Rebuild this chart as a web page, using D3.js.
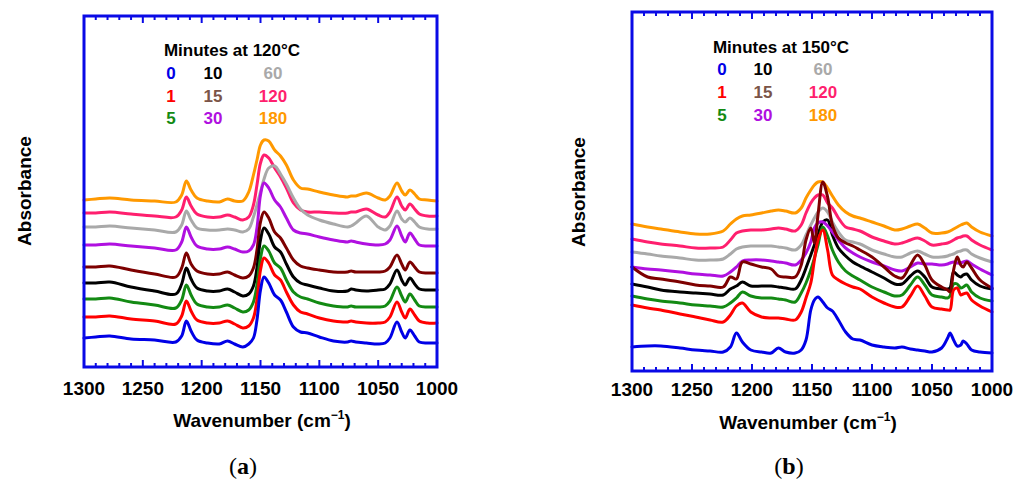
<!DOCTYPE html>
<html><head><meta charset="utf-8">
<script src="https://cdn.jsdelivr.net/npm/d3@7/dist/d3.min.js"></script>
<style>
body{margin:0;background:#fff}
svg{display:block}
text{font-family:"Liberation Sans",Arial,Helvetica,sans-serif;font-weight:bold}
</style></head>
<body><svg id="chart" width="1014" height="486"></svg>
<script>
// ---------- DATA ----------
const minutes = ["0","1","5","10","15","30","60","120","180"];
const lineColors = ["#0000e6","#ff0000","#138a13","#000000","#7d0000","#b010e0","#a9a9a9","#ff1f6e","#ff9900"];
const labelColors = ["#0000e6","#ff0000","#138a13","#000000","#7b5448","#b010e0","#a9a9a9","#ff1f6e","#ff9900"];
const xTicks = [1300,1250,1200,1150,1100,1050,1000];

// Panel (a): 120 °C, absorbance (arb. units, offset stacked)
const wnA = [1300,1290,1278,1260,1240,1222,1217,1213,1209,1204,1195,1185,1178,1172,1165,1160,1156,1153,1150,1147,1143,1138,1133,1128,1122,1116,1110,1100,1088,1076,1073,1069,1060,1050,1044,1040,1034,1030,1027,1023,1019,1015,1008,1000];
const a0   = [29,30,31,28,27,25,31,46,36,27,24,23,26,23,20,23,29,47,77,90,84,72,67,55,40,35,34,30,26,25,26,25,24,23,24,29,45,35,29,37,31,25,24,24];
const a1   = [50,50,51,48,46,43,51,66,56,47,44,44,46,43,39,41,49,67,97,109,104,92,87,75,62,55,53,49,46,45,46,45,44,44,45,50,65,55,49,58,52,46,44,44];
const a5   = [68,68,69,65,62,59,67,82,72,63,60,60,62,59,55,57,65,82,109,121,116,104,99,87,75,70,68,64,61,60,61,60,60,60,61,66,80,71,65,73,67,61,60,60];
const a10  = [84,84,85,80,76,73,83,99,88,79,76,76,78,75,71,73,81,99,127,139,133,120,115,103,90,84,82,79,76,76,78,77,76,77,78,83,97,87,82,89,83,78,77,77];
const a15  = [100,100,101,97,93,90,99,114,103,96,93,93,95,92,89,91,99,117,145,155,149,135,129,119,107,101,99,97,95,95,96,95,95,95,96,100,112,103,97,105,100,95,94,94];
const a30  = [122,122,123,121,119,117,125,140,130,121,118,118,120,118,115,116,122,139,172,184,179,167,160,149,137,134,133,130,127,125,126,125,123,122,123,127,141,131,125,134,128,122,121,121];
const a60  = [140,140,141,139,137,135,142,156,147,139,137,137,138,137,135,138,150,162,175,188,199,201,193,183,169,158,152,147,143,140,141,144,151,140,137,141,156,148,145,149,145,140,138,138];
const a120 = [154,154,155,153,151,150,157,170,161,153,150,150,152,150,147,150,162,182,204,212,209,199,190,179,164,157,155,155,154,154,155,155,158,152,150,155,170,161,157,163,158,153,151,151];
const a180 = [167,168,169,167,166,165,172,186,177,169,166,165,168,166,166,175,192,207,222,227,226,217,211,202,187,179,178,175,172,170,171,171,174,169,167,171,184,176,172,177,173,168,167,166];

// Panel (b): 150 °C
const wnB = [1300,1287,1276,1260,1247,1235,1224,1218,1213,1208,1201,1192,1184,1178,1172,1164,1159,1155,1151,1148,1145,1141,1137,1133,1128,1122,1116,1110,1100,1090,1081,1075,1068,1062,1056,1050,1042,1037,1035,1032,1029,1026,1024,1021,1017,1010,1000];
const b0   = [24,25,25,23,21,20,19,24,38,29,21,19,18,23,19,18,21,31,61,71,74,69,63,60,51,39,32,31,26,24,23,24,22,21,20,19,23,33,38,31,25,26,30,27,21,19,18];
const b1   = [66,63,61,57,54,51,49,56,65,68,59,54,53,53,52,51,59,73,88,111,131,141,121,96,91,87,84,82,74,68,64,64,75,85,75,64,62,61,61,81,83,76,77,78,71,65,59];
const b5   = [75,72,70,68,66,65,64,68,73,79,75,73,73,72,71,69,78,88,101,113,126,144,135,121,109,100,95,91,84,79,75,76,86,94,86,76,74,73,75,87,87,83,84,86,79,73,70];
const b10  = [87,84,81,79,78,77,76,82,85,89,85,85,85,84,83,82,91,103,116,126,136,149,151,136,123,115,109,105,99,93,87,87,95,100,94,84,82,82,83,99,96,94,96,97,91,85,82];
const b15  = [104,94,92,89,86,85,84,94,92,109,107,104,102,95,94,94,106,131,143,128,156,189,174,146,133,128,125,121,114,104,95,93,106,116,106,91,84,81,79,101,114,106,104,109,103,91,83];
const b30  = [104,102,101,99,97,96,95,99,104,110,111,111,110,109,108,106,111,118,129,143,148,149,145,139,131,123,118,114,109,105,101,100,104,108,107,107,106,107,108,109,108,108,109,110,107,102,96];
const b60  = [119,117,115,113,111,111,112,117,122,124,125,125,125,124,123,121,126,136,146,153,159,163,159,149,139,131,129,127,121,117,114,114,118,120,117,114,114,115,116,117,119,120,121,121,117,113,109];
const b120 = [132,129,127,125,123,123,124,131,138,140,141,141,142,143,142,140,146,158,168,173,176,176,168,163,153,144,142,140,134,130,127,128,131,133,130,126,127,128,129,131,133,134,135,135,131,126,121];
const b180 = [147,144,142,139,137,137,140,147,152,155,156,158,160,161,160,158,163,173,181,186,189,189,183,175,166,159,155,153,149,145,141,142,145,147,143,138,138,139,140,142,144,146,147,148,144,139,135];

// ---------- DRAW ----------
const svg = d3.select("#chart");
const frameColor = "#0a0ae6";

const panels = [
  {wn: wnA, series: [a0,a1,a5,a10,a15,a30,a60,a120,a180], yMax: 351,
   box: {l: 84, r: 437, t: 16, b: 367}, title: "Minutes at 120°C",
   leg: {tx: 232, ty: 56, rows: [79, 102, 124], cols: [171, 213, 273]},
   tickY: 395, axTitle: {x: 262, y: 427}, absX: 31, absY: 191, tag: {x: 243, y: 474, t: "a"},
   order: [8,7,6,5,4,3,2,1,0]},
  {wn: wnB, series: [b0,b1,b5,b10,b15,b30,b60,b120,b180], yMax: 359,
   box: {l: 632, r: 992, t: 12, b: 371}, title: "Minutes at 150°C",
   leg: {tx: 781, ty: 53, rows: [75, 98, 121], cols: [722, 763, 823]},
   tickY: 396, axTitle: {x: 808, y: 429}, absX: 585, absY: 192, tag: {x: 789, y: 474, t: "b"},
   order: [8,7,6,3,5,2,1,0,4]}
];

panels.forEach(p => {
  const g = svg.append("g");
  const x = d3.scaleLinear().domain([1300, 1000]).range([p.box.l, p.box.r]);
  const y = d3.scaleLinear().domain([0, p.yMax]).range([p.box.b, p.box.t]);

  const line = d3.line().x(d => x(d[0])).y(d => y(d[1])).curve(d3.curveCatmullRom.alpha(0.5));
  p.order.forEach(i => {
    const pts = p.wn.map((w, k) => [w, p.series[i][k]]);
    g.append("path").attr("d", line(pts)).attr("fill", "none")
      .attr("stroke", lineColors[i]).attr("stroke-width", 3)
      .attr("stroke-linejoin", "round").attr("stroke-linecap", "round");
  });

  // ticks (inward, top & bottom)
  const minor = d3.range(1000, 1301, 10);
  minor.forEach(v => {
    const len = v % 50 === 0 ? 7 : 4;
    g.append("line").attr("x1", x(v)).attr("x2", x(v)).attr("y1", p.box.b).attr("y2", p.box.b - len)
      .attr("stroke", frameColor).attr("stroke-width", 2);
    g.append("line").attr("x1", x(v)).attr("x2", x(v)).attr("y1", p.box.t).attr("y2", p.box.t + len)
      .attr("stroke", frameColor).attr("stroke-width", 2);
  });

  // frame
  g.append("rect").attr("x", p.box.l).attr("y", p.box.t)
    .attr("width", p.box.r - p.box.l).attr("height", p.box.b - p.box.t)
    .attr("fill", "none").attr("stroke", frameColor).attr("stroke-width", 3);

  // tick labels
  g.selectAll(".tl").data(xTicks).enter().append("text")
    .attr("x", d => x(d)).attr("y", p.tickY).attr("text-anchor", "middle")
    .attr("font-size", 19).attr("fill", "#000").text(d => d);

  // axis titles
  const t = g.append("text").attr("x", p.axTitle.x).attr("y", p.axTitle.y)
    .attr("text-anchor", "middle").attr("font-size", 19).attr("fill", "#000");
  t.append("tspan").text("Wavenumber (cm");
  t.append("tspan").attr("dy", -8).attr("font-size", 12).text("−1");
  t.append("tspan").attr("dy", 8).text(")");

  g.append("text").attr("transform", `translate(${p.absX},${p.absY}) rotate(-90)`)
    .attr("text-anchor", "middle").attr("font-size", 19).attr("fill", "#000").text("Absorbance");

  // legend
  g.append("text").attr("x", p.leg.tx).attr("y", p.leg.ty).attr("text-anchor", "middle")
    .attr("font-size", 17).attr("fill", "#000").text(p.title);
  minutes.forEach((m, i) => {
    const col = Math.floor(i / 3), row = i % 3;
    g.append("text").attr("x", p.leg.cols[col]).attr("y", p.leg.rows[row])
      .attr("text-anchor", "middle").attr("font-size", 17).attr("fill", labelColors[i]).text(m);
  });

  // panel tag
  const tg = g.append("text").attr("x", p.tag.x).attr("y", p.tag.y).attr("text-anchor", "middle")
    .attr("font-size", 24).style("font-family", "'Liberation Serif','Times New Roman',serif")
    .style("font-weight", "normal").attr("fill", "#000");
  tg.append("tspan").text("(");
  tg.append("tspan").style("font-weight", "bold").text(p.tag.t);
  tg.append("tspan").text(")");
});
</script></body></html>
